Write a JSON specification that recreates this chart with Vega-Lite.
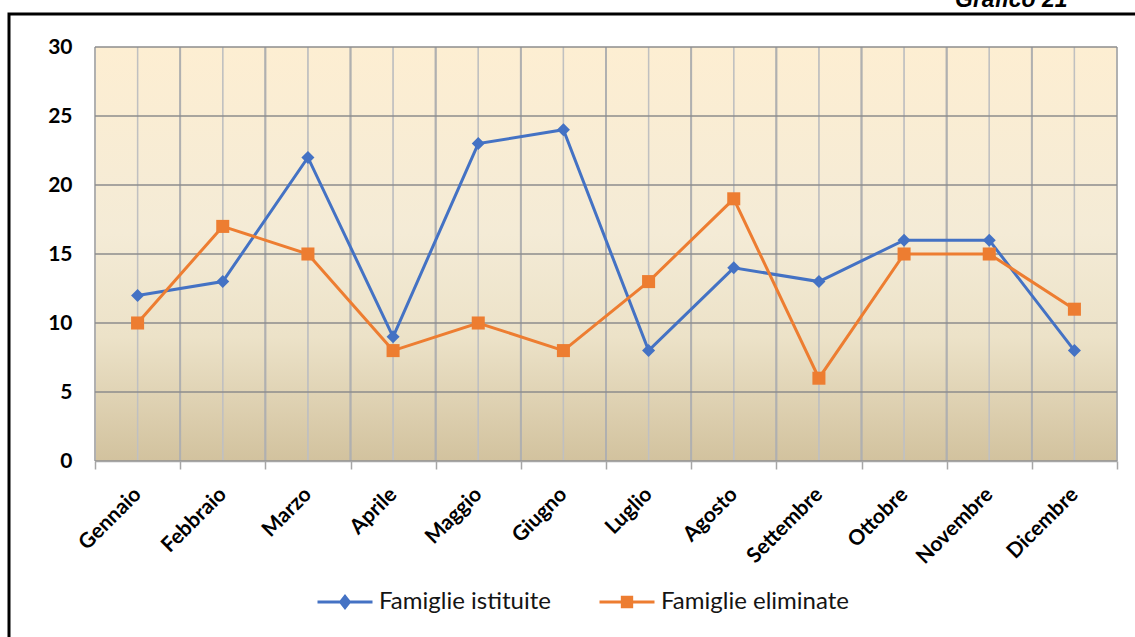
{
  "$schema": "https://vega.github.io/schema/vega-lite/v6.json",
  "width": 1022,
  "height": 414,
  "autosize": {"type": "none"},
  "padding": {"left": 95, "top": 47, "right": 18, "bottom": 176},
  "background": "white",
  "data": {
    "values": [
      {"mese": "Gennaio", "serie": "Famiglie istituite", "valore": 12},
      {"mese": "Febbraio", "serie": "Famiglie istituite", "valore": 13},
      {"mese": "Marzo", "serie": "Famiglie istituite", "valore": 22},
      {"mese": "Aprile", "serie": "Famiglie istituite", "valore": 9},
      {"mese": "Maggio", "serie": "Famiglie istituite", "valore": 23},
      {"mese": "Giugno", "serie": "Famiglie istituite", "valore": 24},
      {"mese": "Luglio", "serie": "Famiglie istituite", "valore": 8},
      {"mese": "Agosto", "serie": "Famiglie istituite", "valore": 14},
      {"mese": "Settembre", "serie": "Famiglie istituite", "valore": 13},
      {"mese": "Ottobre", "serie": "Famiglie istituite", "valore": 16},
      {"mese": "Novembre", "serie": "Famiglie istituite", "valore": 16},
      {"mese": "Dicembre", "serie": "Famiglie istituite", "valore": 8},
      {"mese": "Gennaio", "serie": "Famiglie eliminate", "valore": 10},
      {"mese": "Febbraio", "serie": "Famiglie eliminate", "valore": 17},
      {"mese": "Marzo", "serie": "Famiglie eliminate", "valore": 15},
      {"mese": "Aprile", "serie": "Famiglie eliminate", "valore": 8},
      {"mese": "Maggio", "serie": "Famiglie eliminate", "valore": 10},
      {"mese": "Giugno", "serie": "Famiglie eliminate", "valore": 8},
      {"mese": "Luglio", "serie": "Famiglie eliminate", "valore": 13},
      {"mese": "Agosto", "serie": "Famiglie eliminate", "valore": 19},
      {"mese": "Settembre", "serie": "Famiglie eliminate", "valore": 6},
      {"mese": "Ottobre", "serie": "Famiglie eliminate", "valore": 15},
      {"mese": "Novembre", "serie": "Famiglie eliminate", "valore": 15},
      {"mese": "Dicembre", "serie": "Famiglie eliminate", "valore": 11}
    ]
  },
  "layer": [
    {
      "mark": {
        "type": "rect",
        "fill": {
          "gradient": "linear",
          "x1": 0, "y1": 0, "x2": 0, "y2": 1,
          "stops": [
            {"offset": 0, "color": "#fdeed2"},
            {"offset": 0.45, "color": "#f4ebd6"},
            {"offset": 0.7, "color": "#ece2c8"},
            {"offset": 1, "color": "#d2c29e"}
          ]
        }
      },
      "encoding": {
        "y": {"datum": 30, "type": "quantitative"},
        "y2": {"datum": 0}
      }
    },
    {
      "mark": {"type": "rule", "color": "#c0c0c0", "strokeWidth": 1.3},
      "encoding": {
        "x": {
          "field": "mese",
          "type": "nominal",
          "sort": ["Gennaio", "Febbraio", "Marzo", "Aprile", "Maggio", "Giugno", "Luglio", "Agosto", "Settembre", "Ottobre", "Novembre", "Dicembre"],
          "scale": {"paddingInner": 0, "paddingOuter": 0},
          "axis": {
            "title": null,
            "zindex": 1,
            "labelAngle": -45,
            "labelAlign": "right",
            "labelBaseline": "middle",
            "labelFont": "Lato",
            "labelFontWeight": "bold",
            "labelFontSize": 21,
            "labelColor": "#000000",
            "labelPadding": 22,
            "tickBand": "extent",
            "ticks": true,
            "tickSize": 8,
            "tickColor": "#a6a6a6",
            "tickWidth": 1.5,
            "domainColor": "#a6a6a6",
            "domainWidth": 1.5,
            "grid": false
          }
        },
        "strokeDash": {
          "datum": "cornice",
          "type": "nominal",
          "scale": {"range": [[1, 0]]},
          "legend": {
            "orient": "none",
            "legendX": -86,
            "legendY": -33,
            "padding": 700,
            "strokeColor": "#000000",
            "fillColor": null,
            "title": null,
            "labelExpr": "''",
            "labelColor": "transparent",
            "symbolStrokeColor": "transparent",
            "symbolSize": 1
          }
        }
      }
    },
    {
      "mark": {"type": "rule", "color": "#b0b0b0", "strokeWidth": 1.8},
      "encoding": {
        "x": {"field": "mese", "type": "nominal", "bandPosition": 0, "sort": ["Gennaio", "Febbraio", "Marzo", "Aprile", "Maggio", "Giugno", "Luglio", "Agosto", "Settembre", "Ottobre", "Novembre", "Dicembre"]}
      }
    },
    {
      "transform": [{"filter": "datum.mese === 'Dicembre'"}],
      "mark": {"type": "rule", "color": "#b0b0b0", "strokeWidth": 1.8},
      "encoding": {
        "x": {"field": "mese", "type": "nominal", "bandPosition": 1, "sort": ["Gennaio", "Febbraio", "Marzo", "Aprile", "Maggio", "Giugno", "Luglio", "Agosto", "Settembre", "Ottobre", "Novembre", "Dicembre"]}
      }
    },
    {
      "data": {"values": [{"livello": 0}, {"livello": 5}, {"livello": 10}, {"livello": 15}, {"livello": 20}, {"livello": 25}, {"livello": 30}]},
      "mark": {"type": "rule", "color": "#8c8c8c", "strokeWidth": 1.5},
      "encoding": {
        "y": {
          "field": "livello",
          "type": "quantitative",
          "scale": {"domain": [0, 30]},
          "axis": {
            "title": "Grafico 21",
            "titleAngle": 0,
            "titleX": 972,
            "titleY": -41,
            "titleAlign": "right",
            "titleBaseline": "alphabetic",
            "titleFont": "Liberation Sans",
            "titleFontSize": 23,
            "titleFontStyle": "italic",
            "titleFontWeight": "bold",
            "titleColor": "#000000",
            "zindex": 1,
            "values": [0, 5, 10, 15, 20, 25, 30],
            "ticks": false,
            "tickSize": 0,
            "domain": false,
            "grid": false,
            "labelFont": "Lato",
            "labelFontWeight": "bold",
            "labelFontSize": 21,
            "labelColor": "#000000",
            "labelPadding": 23
          }
        }
      }
    },
    {
      "transform": [{"filter": "datum.serie === 'Famiglie istituite'"}],
      "mark": {"type": "line", "strokeWidth": 3, "color": "#4472c4"},
      "encoding": {
        "x": {"field": "mese", "type": "nominal", "sort": ["Gennaio", "Febbraio", "Marzo", "Aprile", "Maggio", "Giugno", "Luglio", "Agosto", "Settembre", "Ottobre", "Novembre", "Dicembre"]},
        "y": {"field": "valore", "type": "quantitative"}
      }
    },
    {
      "transform": [{"filter": "datum.serie === 'Famiglie eliminate'"}],
      "mark": {"type": "line", "strokeWidth": 3, "color": "#ed7d31"},
      "encoding": {
        "x": {"field": "mese", "type": "nominal", "sort": ["Gennaio", "Febbraio", "Marzo", "Aprile", "Maggio", "Giugno", "Luglio", "Agosto", "Settembre", "Ottobre", "Novembre", "Dicembre"]},
        "y": {"field": "valore", "type": "quantitative"}
      }
    },
    {
      "transform": [{"filter": "datum.serie === 'Famiglie istituite'"}],
      "mark": {"type": "point", "filled": true, "shape": "diamond", "size": 170, "opacity": 1, "color": "#4472c4"},
      "encoding": {
        "x": {"field": "mese", "type": "nominal", "sort": ["Gennaio", "Febbraio", "Marzo", "Aprile", "Maggio", "Giugno", "Luglio", "Agosto", "Settembre", "Ottobre", "Novembre", "Dicembre"]},
        "y": {"field": "valore", "type": "quantitative"}
      }
    },
    {
      "transform": [{"filter": "datum.serie === 'Famiglie eliminate'"}],
      "mark": {"type": "point", "filled": true, "shape": "square", "size": 170, "opacity": 1, "color": "#ed7d31"},
      "encoding": {
        "x": {"field": "mese", "type": "nominal", "sort": ["Gennaio", "Febbraio", "Marzo", "Aprile", "Maggio", "Giugno", "Luglio", "Agosto", "Settembre", "Ottobre", "Novembre", "Dicembre"]},
        "y": {"field": "valore", "type": "quantitative"}
      }
    },
    {
      "mark": {"type": "point", "filled": true, "size": 3025, "strokeWidth": 3, "opacity": 0},
      "encoding": {
        "x": {"field": "mese", "type": "nominal", "sort": ["Gennaio", "Febbraio", "Marzo", "Aprile", "Maggio", "Giugno", "Luglio", "Agosto", "Settembre", "Ottobre", "Novembre", "Dicembre"]},
        "y": {"field": "valore", "type": "quantitative"},
        "fill": {
          "field": "serie",
          "type": "nominal",
          "scale": {"domain": ["Famiglie istituite", "Famiglie eliminate"], "range": ["#4472c4", "#ed7d31"]},
          "legend": {"orient": "none", "legendX": 221, "legendY": 526, "direction": "horizontal", "title": null, "padding": 0, "symbolSize": 3025, "symbolStrokeWidth": 3, "symbolOpacity": 1, "labelFont": "Lato", "labelFontSize": 24, "labelColor": "#141414", "labelOffset": 5, "columnPadding": 42, "labelLimit": 400}
        },
        "stroke": {
          "field": "serie",
          "type": "nominal",
          "scale": {"domain": ["Famiglie istituite", "Famiglie eliminate"], "range": ["#4472c4", "#ed7d31"]},
          "legend": {"orient": "none", "legendX": 221, "legendY": 526, "direction": "horizontal", "title": null, "padding": 0, "symbolSize": 3025, "symbolStrokeWidth": 3, "symbolOpacity": 1, "labelFont": "Lato", "labelFontSize": 24, "labelColor": "#141414", "labelOffset": 5, "columnPadding": 42, "labelLimit": 400}
        },
        "shape": {
          "field": "serie",
          "type": "nominal",
          "scale": {"domain": ["Famiglie istituite", "Famiglie eliminate"], "range": ["M-1,0H1M0,-0.2L0.16,0L0,0.2L-0.16,0Z", "M-1,0H1M-0.17,-0.17H0.17V0.17H-0.17Z"]},
          "legend": {"orient": "none", "legendX": 221, "legendY": 526, "direction": "horizontal", "title": null, "padding": 0, "symbolSize": 3025, "symbolStrokeWidth": 3, "symbolOpacity": 1, "labelFont": "Lato", "labelFontSize": 24, "labelColor": "#141414", "labelOffset": 5, "columnPadding": 42, "labelLimit": 400}
        }
      }
    }
  ],
  "config": {
    "legend": {"strokeWidth": 3},
    "view": {"stroke": null}
  }
}
